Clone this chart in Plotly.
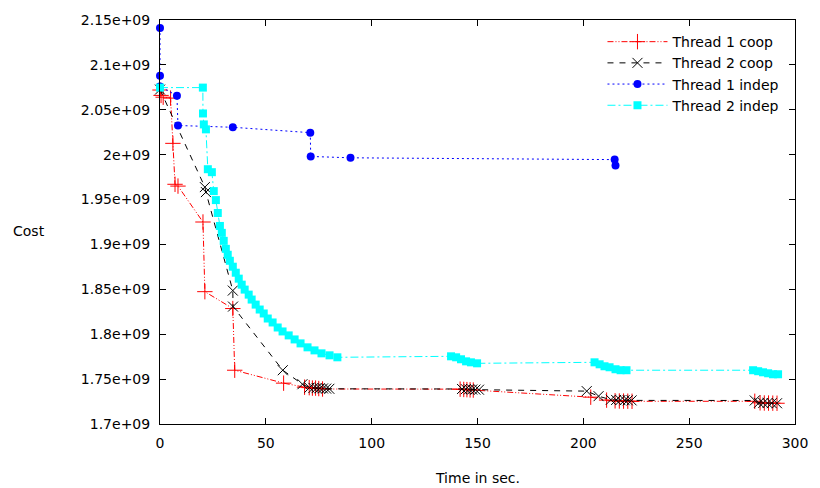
import numpy as np
import plotly.graph_objects as go

# costs in units of 1e9
t1_coop_x = [0, 0.5, 1.5, 5.0, 6.1, 7.1, 8.5, 20.3, 21.2, 34.4, 35.3, 58.4, 68.3, 70.5, 72.0,
             73.5, 75.0, 76.8, 141.8, 143.5, 145.0, 146.5, 148.0, 203.5, 211.0, 215.0, 217.0,
             219.0, 221.0, 223.0, 281.0, 283.5, 285.5, 287.5, 289.5, 291.5]
t1_coop_y = [2.072, 2.066, 2.064, 2.063, 2.0126, 1.967, 1.965, 1.925, 1.8474, 1.8286, 1.7599,
             1.7455, 1.741, 1.7405, 1.740, 1.740, 1.7395, 1.739, 1.7388, 1.7385, 1.7383, 1.738,
             1.7378, 1.7299, 1.7266, 1.7258, 1.7256, 1.7255, 1.7254, 1.7253, 1.7253, 1.7236,
             1.7234, 1.7233, 1.7232, 1.7231]

t2_coop_x = [0, 21.2, 21.7, 34.4, 34.5, 58.0, 67.3, 70.6, 72.5, 74.0, 75.5, 77.0, 78.5, 80.0,
             142.7, 144.5, 146.0, 147.5, 149.0, 150.7, 201.6, 207.2, 213.0, 215.5, 217.5,
             219.5, 221.0, 222.8, 281.0, 283.0, 285.0, 287.0, 289.0, 291.5]
t2_coop_y = [2.0725, 1.9639, 1.9583, 1.8486, 1.8308, 1.7599, 1.7443, 1.7405, 1.7402, 1.740,
             1.7398, 1.7396, 1.7394, 1.7392, 1.739, 1.7388, 1.7386, 1.7384, 1.7383, 1.7382,
             1.7366, 1.731, 1.727, 1.7268, 1.7266, 1.7265, 1.7264, 1.7263, 1.7262, 1.7236,
             1.7234, 1.7233, 1.7232, 1.7231]

t1_indep_x = [0, 0, 0, 8.0, 8.5, 34.4, 71.0, 71.2, 90.0, 214.8, 215.2]
t1_indep_y = [2.141, 2.088, 2.076, 2.0657, 2.0325, 2.0305, 2.0245, 1.998, 1.9965, 1.9945, 1.988]

t2_indep_x = [0, 20.25, 20.3, 20.7, 21.7, 22.6, 24.5, 25.4, 26.4, 27.3, 28.3, 29.2, 30.1, 31.1,
              32.0, 33.0, 34.4, 35.8, 37.2, 38.6, 40.0, 41.9, 43.3, 45.2, 47.1, 49.0, 50.9,
              53.2, 55.6, 57.9, 60.8, 63.6, 66.4, 69.7, 73.0, 76.3, 80.1, 83.8,
              137.5, 139.9, 142.2, 144.6, 146.9, 149.8,
              205.3, 207.7, 210.0, 212.4, 215.2, 217.6, 220.4,
              280.2, 282.6, 284.9, 287.3, 289.6, 292.0]
t2_indep_y = [2.0747, 2.0747, 2.0459, 2.0337, 2.0282, 1.9838, 1.9805, 1.9594, 1.9494, 1.9350,
              1.9206, 1.9129, 1.9040, 1.8951, 1.8885, 1.8818, 1.8752, 1.8685, 1.8619, 1.8552,
              1.8497, 1.8441, 1.8386, 1.8330, 1.8275, 1.8231, 1.8175, 1.8131, 1.8075, 1.8031,
              1.7987, 1.7942, 1.7898, 1.7854, 1.7820, 1.7787, 1.7765, 1.7743,
              1.7754, 1.7743, 1.7721, 1.7698, 1.7687, 1.7676,
              1.7687, 1.7665, 1.7643, 1.7632, 1.7610, 1.7599, 1.7599,
              1.7599, 1.7588, 1.7576, 1.7565, 1.7554, 1.7554]

y_ticks = [1.7, 1.75, 1.8, 1.85, 1.9, 1.95, 2.0, 2.05, 2.1, 2.15]
y_tick_text = ['1.7e+09', '1.75e+09', '1.8e+09', '1.85e+09', '1.9e+09', '1.95e+09',
               '2e+09', '2.05e+09', '2.1e+09', '2.15e+09']
x_ticks = [0, 50, 100, 150, 200, 250, 300]

font = 'DejaVu Sans, sans-serif'

fig = go.Figure()

fig.add_trace(go.Scatter(
    x=t1_coop_x, y=np.array(t1_coop_y) * 1e9, name='Thread 1 coop',
    mode='lines+markers', cliponaxis=False,
    line=dict(color='#ff0000', width=1, dash='6px,2px,1px,2px,1px,2px'),
    marker=dict(symbol='cross-thin', size=11, line=dict(color='#ff0000', width=1))
))
fig.add_trace(go.Scatter(
    x=t2_coop_x, y=np.array(t2_coop_y) * 1e9, name='Thread 2 coop',
    mode='lines+markers', cliponaxis=False,
    line=dict(color='#000000', width=1, dash='6px,6px'),
    marker=dict(symbol='x-thin', size=10, line=dict(color='#000000', width=1))
))
fig.add_trace(go.Scatter(
    x=t1_indep_x, y=np.array(t1_indep_y) * 1e9, name='Thread 1 indep',
    mode='lines+markers', cliponaxis=False,
    line=dict(color='#0000ff', width=1, dash='2px,3px'),
    marker=dict(symbol='circle', size=8, color='#0000ff')
))
fig.add_trace(go.Scatter(
    x=t2_indep_x, y=np.array(t2_indep_y) * 1e9, name='Thread 2 indep',
    mode='lines+markers', cliponaxis=False,
    line=dict(color='#00ffff', width=1, dash='8px,3px,2px,3px'),
    marker=dict(symbol='square', size=8, color='#00ffff')
))

axis_style = dict(
    showline=True, linecolor='black', linewidth=1, mirror='ticks',
    ticks='inside', ticklen=6, tickcolor='black', showgrid=False, zeroline=False,
    tickfont=dict(family=font, size=14, color='black')
)

fig.update_layout(
    width=820, height=488,
    margin=dict(l=160, r=23, t=18, b=64),
    paper_bgcolor='white', plot_bgcolor='white',
    font=dict(family=font, size=14, color='black'),
    xaxis=dict(range=[0, 300], tickvals=x_ticks, ticklabelstandoff=6, **axis_style),
    yaxis=dict(range=[1.7e9, 2.15e9], tickvals=[v * 1e9 for v in y_ticks],
               ticktext=y_tick_text, ticklabelstandoff=6, **axis_style),
    legend=dict(x=0.985, y=0.985, xanchor='right', yanchor='top',
                bgcolor='rgba(0,0,0,0)', font=dict(family=font, size=14),
                tracegroupgap=0, itemwidth=60),
    annotations=[
        dict(text='Cost', xref='paper', yref='paper', x=-0.207, y=0.478,
             xanchor='center', yanchor='middle', showarrow=False,
             font=dict(family=font, size=14)),
        dict(text='Time in sec.', xref='paper', yref='paper', x=0.5, y=-0.133,
             xanchor='center', yanchor='middle', showarrow=False,
             font=dict(family=font, size=14)),
    ]
)

fig.write_html('out.html', config={'displayModeBar': False},
               post_script="document.body.style.margin='0';")
